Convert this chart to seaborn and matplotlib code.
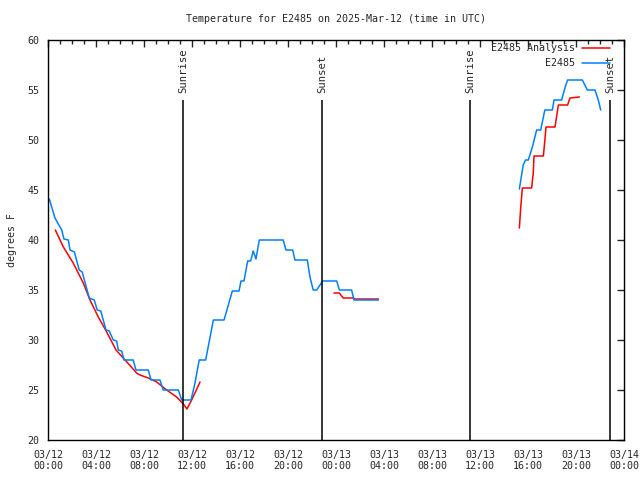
import pandas as pd
import numpy as np
import matplotlib
matplotlib.use('Agg')
import matplotlib.pyplot as plt
from matplotlib.lines import Line2D
import seaborn as sns

# observed temperature (hours since 03/12 00:00 UTC, deg F)
obs_hours_1 = [0.11, 0.58, 1.14, 1.33, 1.7, 1.83, 2.2, 2.6, 2.85, 3.44, 3.86, 4.1, 4.4, 4.83, 5.1,
               5.44, 5.72, 5.86, 6.14, 6.33, 7.1, 7.33, 8.36, 8.58, 9.33, 9.6, 10.86, 11.14, 11.92,
               12.25, 12.6, 13.14, 13.78, 14.67, 15.36, 15.92, 16.08, 16.33, 16.64, 16.89, 17.1,
               17.33, 17.61, 19.6, 19.83, 20.39, 20.58, 21.61, 21.83, 22.1, 22.39, 22.89, 24.06,
               24.28, 25.3, 25.5, 27.53]
obs_temps_1 = [44.1, 42.2, 41.0, 40.1, 40.0, 39.0, 38.8, 37.0, 36.8, 34.2, 34.0, 33.0, 32.9, 31.0, 30.9,
               30.0, 29.9, 29.0, 28.9, 28.0, 28.0, 27.0, 27.0, 26.0, 26.0, 25.0, 25.0, 24.0, 24.0,
               25.7, 28.0, 28.0, 32.0, 32.0, 34.9, 34.9, 35.9, 35.9, 37.9, 37.9, 38.9,
               38.1, 40.0, 40.0, 39.0, 39.0, 38.0, 38.0, 36.3, 35.0, 35.0, 35.9, 35.9,
               35.0, 35.0, 34.0, 34.0]
obs_hours_2 = [39.28, 39.4, 39.6, 39.8, 40.03, 40.39, 40.72, 41.06, 41.4, 42.03, 42.17, 42.8, 43.1,
               43.3, 44.53, 44.94, 45.58, 45.86, 46.06]
obs_temps_2 = [45.1, 46.0, 47.5, 48.0, 48.0, 49.4, 51.0, 51.0, 53.0, 53.0, 54.0, 54.0, 55.3,
               56.0, 56.0, 55.0, 55.0, 54.0, 53.0]

# analysis temperature
ana_hours_1 = [0.61, 1.28, 2.1, 2.94, 3.5, 4.19, 4.89, 5.67, 6.42, 7.39, 7.67, 8.36, 9.06, 9.89,
               10.72, 11.28, 11.58, 11.97, 12.67]
ana_temps_1 = [41.0, 39.3, 37.7, 35.7, 34.0, 32.3, 30.8, 29.0, 28.0, 26.7, 26.5, 26.2, 25.8, 25.0,
               24.3, 23.6, 23.1, 24.0, 25.8]
ana_hours_2 = [23.83, 24.28, 24.6, 25.4, 25.6, 27.53]
ana_temps_2 = [34.7, 34.7, 34.2, 34.2, 34.1, 34.1]
ana_hours_3 = [39.28, 39.39, 39.53, 40.3, 40.44, 40.5, 41.28, 41.4, 41.5, 42.25, 42.39, 42.53,
               43.3, 43.5, 44.28]
ana_temps_3 = [41.2, 43.2, 45.2, 45.2, 46.7, 48.4, 48.4, 49.9, 51.3, 51.3, 52.4, 53.5,
               53.5, 54.2, 54.3]

event_hours = [11.25, 22.83, 35.17, 46.83]
event_names = ['Sunrise', 'Sunset', 'Sunrise', 'Sunset']

tick_hours = list(range(0, 49, 4))
tick_labels = ['03/12\n00:00', '03/12\n04:00', '03/12\n08:00', '03/12\n12:00', '03/12\n16:00',
               '03/12\n20:00', '03/13\n00:00', '03/13\n04:00', '03/13\n08:00', '03/13\n12:00',
               '03/13\n16:00', '03/13\n20:00', '03/14\n00:00']

RED = '#ff0000'
BLUE = '#0080ff'
FS = 7.2


def make_frame(parts):
    frames = []
    for i, (h, t) in enumerate(parts):
        frames.append(pd.DataFrame({'hour': h, 'temp': t, 'seg': i}))
    return pd.concat(frames, ignore_index=True)


obs = make_frame([(obs_hours_1, obs_temps_1), (obs_hours_2, obs_temps_2)])
ana = make_frame([(ana_hours_1, ana_temps_1), (ana_hours_2, ana_temps_2), (ana_hours_3, ana_temps_3)])

sns.set_style('white')
plt.rcParams['font.family'] = ['DejaVu Sans Mono']
plt.rcParams['font.size'] = FS

fig = plt.figure(figsize=(6.4, 4.8), dpi=100)
ax = fig.add_axes([48 / 640, 40 / 480, 576 / 640, 400 / 480])

sns.lineplot(data=ana, x='hour', y='temp', units='seg', estimator=None, color=RED,
             lw=1.1, ax=ax, legend=False)
sns.lineplot(data=obs, x='hour', y='temp', units='seg', estimator=None, color=BLUE,
             lw=1.1, ax=ax, legend=False)

for h, name in zip(event_hours, event_names):
    ax.vlines(h, 20, 54, color='black', lw=1.1)
    ax.text(h, 54.7, name, rotation=90, ha='center', va='bottom', fontsize=7.6)

ax.set_xlim(0, 48)
ax.set_ylim(20, 60)
ax.set_xticks(tick_hours)
ax.set_xticklabels(tick_labels)
ax.set_xticks(range(0, 49), minor=True)
ax.set_yticks(range(20, 61, 5))
ax.tick_params(which='both', direction='in', top=True, right=True, labelsize=FS)
ax.tick_params(axis='x', pad=7)
ax.tick_params(axis='y', pad=6)
ax.tick_params(which='major', length=5, width=1)
ax.tick_params(which='minor', length=3, width=1)
for s in ax.spines.values():
    s.set_linewidth(1)
    s.set_color('black')

ax.set_xlabel('')
ax.set_ylabel('degrees F', fontsize=FS, labelpad=8)
ax.set_title('Temperature for E2485 on 2025-Mar-12 (time in UTC)', fontsize=FS, pad=13)

handles = [Line2D([], [], color=RED, lw=1.1), Line2D([], [], color=BLUE, lw=1.1)]
leg = ax.legend(handles, ['E2485 Analysis', 'E2485'], loc='upper right',
                bbox_to_anchor=(612 / 640, 439 / 480), bbox_transform=fig.transFigure,
                frameon=False, markerfirst=False, handlelength=2.8, fontsize=FS,
                borderaxespad=0, borderpad=0.2, labelspacing=0.55, handletextpad=0.7)
leg._legend_box.align = 'right'
for t in leg.get_texts():
    t.set_ha('right')

fig.savefig('out.png', dpi=100)
